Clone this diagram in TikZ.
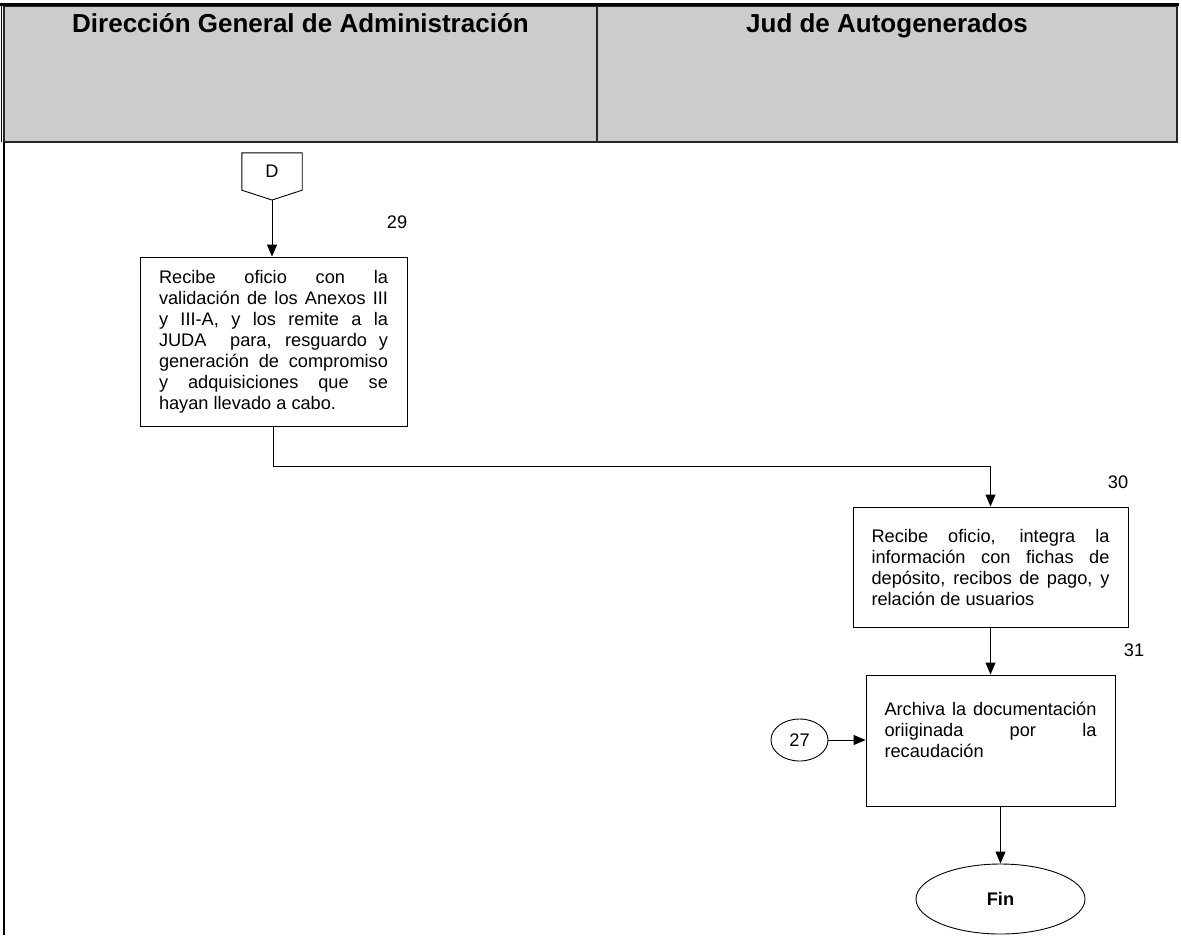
\documentclass[tikz,border=0pt]{standalone}
\usepackage{fontspec}
\setmainfont{Liberation Sans}
\usepackage{xcolor}
\usetikzlibrary{arrows.meta}
\usetikzlibrary{shapes}
\usetikzlibrary{positioning}
\definecolor{GrisCab}{RGB}{204,204,204}
\tikzset{
  MyCab/.style={
    rectangle, draw=black!85, line width=1.2pt, fill=GrisCab,
    minimum height=136pt, inner sep=0pt,
  },
  MyTit/.style={
    font=\fontsize{26}{30}\selectfont\bfseries, inner sep=0pt, anchor=base,
  },
  MyProc/.style={
    rectangle, draw=black, line width=0.9pt, inner sep=0pt,
    font=\fontsize{18.2}{21}\selectfont, align=justify,
  },
  MyNum/.style={font=\fontsize{18.2}{21}\selectfont, inner sep=0pt},
  MyFlecha/.style={draw=black, line width=0.9pt, -{Triangle[length=12pt,width=10pt]}},
}
\begin{document}
\begin{tikzpicture}[x=1pt,y=-1pt]
\useasboundingbox (0,0) rectangle (1182,935);
% encabezado
\node[MyCab, minimum width=593pt] (DGA) at (300.5,74) {};
\node[MyCab, minimum width=580pt] (JUD) at (887,74) {};
\node[MyTit] (tDGA) at (300.5,32) {Dirección General de Administración};
\node[MyTit] (tJUD) at (887,32) {Jud de Autogenerados};
\draw[line width=2.5pt] (0,4.5) -- (1179,4.5);
\draw[line width=0.8pt] (1,4) -- (1,142);
\draw[line width=2pt] (3.5,142) -- (3.5,935);
% conector D
\node[MyNum, minimum width=60pt, minimum height=37pt] (D) at (272,171.5) {D};
\coordinate (Dtip) at (272,200);
\draw[line width=0.9pt] (D.north west) -- (D.north east) -- (D.south east) -- (Dtip) -- (D.south west) -- cycle;
% actividades
\node[MyProc, minimum width=267pt, minimum height=169pt, text width=229pt] (R29) at (273.5,341.5) {Recibe oficio con la\linebreak validación de los Anexos III\linebreak y III-A, y los remite a la\linebreak JUDA\ \ para, resguardo y\linebreak generación de compromiso\linebreak y adquisiciones que se\linebreak hayan llevado a cabo.};
\node[MyProc, minimum width=275pt, minimum height=120pt, text width=238pt] (R30) at (990.5,567) {Recibe oficio, integra la\linebreak información con fichas de\linebreak depósito, recibos de pago, y\linebreak relación de usuarios};
\node[MyProc, minimum width=249pt, minimum height=131pt, text width=212pt] (R31) at (990.5,740.5) {Archiva la documentación\linebreak oriiginada por la\linebreak recaudación\par\noindent\rule{0pt}{0pt}};
\node[MyNum] (n29) at (397,222) {29};
\node[MyNum] (n30) at (1118,482) {30};
\node[MyNum] (n31) at (1134,650) {31};
\node[MyNum, ellipse, draw, line width=0.9pt, minimum width=57pt, minimum height=42pt] (C27) at (799.5,740) {27};
\node[MyNum, ellipse, draw, line width=0.9pt, minimum width=169pt, minimum height=70pt, font=\fontsize{18.2}{21}\selectfont\bfseries] (Fin) at (1000.5,899) {Fin};
% flechas
\draw[MyFlecha] (Dtip) -- (Dtip |- R29.north);
\draw[MyFlecha] (R29.south) -- (R29.south |- 0,466) -| (R30.north);
\draw[MyFlecha] (R30.south) -- (R31.north);
\draw[MyFlecha] (C27.east) -- (C27.east -| R31.west);
\draw[MyFlecha] (R31.south -| Fin.north) -- (Fin.north);
\end{tikzpicture}
\end{document}
